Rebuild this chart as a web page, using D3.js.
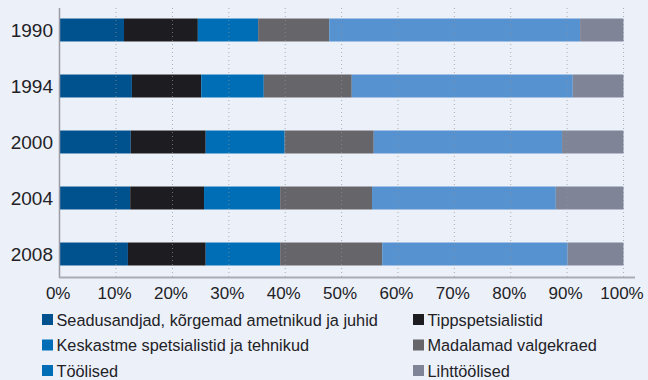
<!DOCTYPE html>
<html>
<head>
<meta charset="utf-8">
<script src="https://cdn.jsdelivr.net/npm/d3@7"></script>
<style>
  body { margin: 0; background: #ecf0f9; }
  svg { display: block; font-family: "Liberation Sans", Arial, sans-serif; }
</style>
</head>
<body>
<div id="chart"></div>
<script>
// data, shares in % per year
var years = ["1990", "1994", "2000", "2004", "2008"];
var groups = ["Seadusandjad, kõrgemad ametnikud ja juhid", "Tippspetsialistid",
  "Keskastme spetsialistid ja tehnikud", "Madalamad valgekraed", "Töölised", "Lihttöölised"];
var juhid      = [11.4, 12.8, 12.6, 12.5, 12.1];
var tipp       = [13.1, 12.3, 13.3, 13.1, 13.8];
var keskastme  = [10.7, 11.1, 14.0, 13.5, 13.2];
var valgekraed = [12.6, 15.6, 15.8, 16.3, 18.1];
var toolised   = [44.5, 39.2, 33.4, 32.6, 32.9];
var liht       = [7.7, 9.0, 10.9, 12.0, 9.9];
var ticks = [0, 10, 20, 30, 40, 50, 60, 70, 80, 90, 100];

var colors = ["#00528f", "#1d1d21", "#006eb6", "#66656a", "#5592cf", "#7f8597"];
var legendColors = ["#00528f", "#1d1d21", "#006eb6", "#66656a", "#006eb6", "#7f8597"];

var width = 648, height = 380;

var rows = years.map(function(y, i) {
  return {year: y, g0: juhid[i], g1: tipp[i], g2: keskastme[i], g3: valgekraed[i], g4: toolised[i], g5: liht[i]};
});
var keys = ["g0", "g1", "g2", "g3", "g4", "g5"];
var stack = d3.stack().keys(keys)(rows);

var x = d3.scaleLinear().domain([0, 100]).range([59.7, 623.5]);
var y = d3.scaleBand().domain(years).range([2, 282]).paddingInner(0.59).paddingOuter(0.295);

var svg = d3.select("#chart").append("svg")
  .attr("width", width).attr("height", height);

// bars
svg.selectAll("g.layer")
  .data(stack)
  .enter().append("g")
    .attr("class", "layer")
    .attr("fill", function(d, i) { return colors[i]; })
  .selectAll("rect")
  .data(function(d) { return d; })
  .enter().append("rect")
    .attr("x", function(d) { return x(d[0]); })
    .attr("width", function(d) { return x(d[1]) - x(d[0]); })
    .attr("y", function(d) { return y(d.data.year); })
    .attr("height", y.bandwidth());

// dotted grid on top
svg.selectAll("line.grid")
  .data(ticks.slice(1))
  .enter().append("line")
    .attr("class", "grid")
    .attr("x1", function(d) { return x(d); })
    .attr("x2", function(d) { return x(d); })
    .attr("y1", 8).attr("y2", 277)
    .attr("stroke", "#8e929c")
    .attr("stroke-opacity", 0.7)
    .attr("stroke-width", 1)
    .attr("stroke-dasharray", "1,3");

// axis lines
svg.append("line")
  .attr("x1", 59.5).attr("x2", 59.5).attr("y1", 8).attr("y2", 278)
  .attr("stroke", "#9a9da6").attr("stroke-width", 1.5);
svg.append("line")
  .attr("x1", 59).attr("x2", 635).attr("y1", 277.5).attr("y2", 277.5)
  .attr("stroke", "#a9acb6").attr("stroke-width", 2);

// year labels
svg.selectAll("text.year")
  .data(years)
  .enter().append("text")
    .attr("class", "year")
    .attr("x", 53)
    .attr("y", function(d) { return y(d) + y.bandwidth() / 2; })
    .attr("dy", "0.35em")
    .attr("text-anchor", "end")
    .attr("font-size", 19)
    .attr("fill", "#222226")
    .text(function(d) { return d; });

// x tick labels
svg.selectAll("text.tick")
  .data(ticks)
  .enter().append("text")
    .attr("class", "tick")
    .attr("x", function(d) { return x(d) - 1.5; })
    .attr("y", 299)
    .attr("text-anchor", "middle")
    .attr("font-size", 17)
    .attr("fill", "#222226")
    .text(function(d) { return d + "%"; });

// legend
var leg = svg.selectAll("g.leg")
  .data(groups)
  .enter().append("g")
    .attr("class", "leg")
    .attr("transform", function(d, i) {
      return "translate(" + (i % 2 ? 413 : 42) + "," + (314 + Math.floor(i / 2) * 25.5) + ")";
    });
leg.append("rect")
  .attr("width", 11).attr("height", 11)
  .attr("fill", function(d, i) { return legendColors[i]; });
leg.append("text")
  .attr("x", 14.5).attr("y", 11.5)
  .attr("font-size", 16.3)
  .attr("fill", "#222226")
  .text(function(d) { return d; });
</script>
</body>
</html>
